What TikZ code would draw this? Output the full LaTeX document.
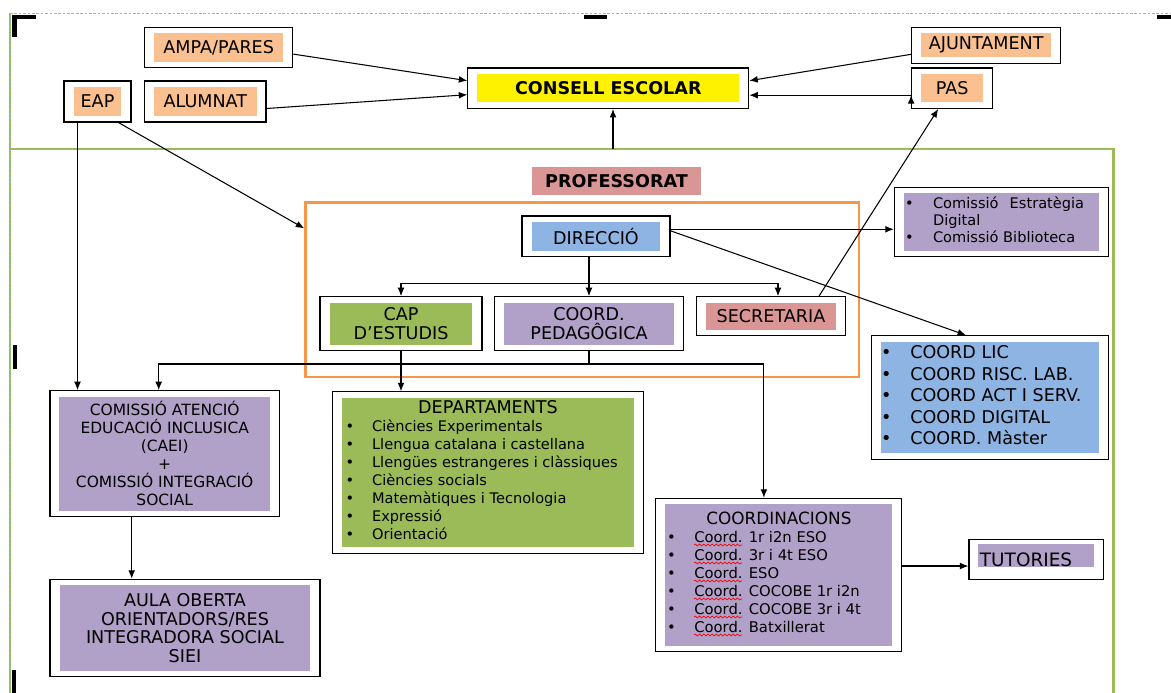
\documentclass[tikz,border=0pt]{standalone}
\usepackage{fontspec}
\setmainfont{DejaVu Sans}
\usetikzlibrary{shapes, arrows.meta, positioning, decorations.pathmorphing}
\definecolor{peach}{HTML}{FAC090}
\definecolor{rose}{HTML}{DA9694}
\definecolor{sky}{HTML}{8DB4E2}
\definecolor{leaf}{HTML}{9BBB59}
\definecolor{lilac}{HTML}{B1A0C7}
\definecolor{frameorange}{HTML}{F79646}
\definecolor{pageblue}{HTML}{95B3D7}
\hyphenpenalty=10000
\tikzstyle{->}   = [draw, -{Latex[length=4.8pt, width=3.9pt]}]
\tikzset{
  box/.style={draw, line width=0.65pt, fill=white, inner sep=0pt, align=center,
    font=\fontsize{10}{11}\selectfont,
    path picture={\fill[#1] ([shift={(0.19cm,0.12cm)}]path picture bounding box.south west)
      rectangle ([shift={(-0.19cm,-0.12cm)}]path picture bounding box.north east);}},
  boxtop/.style={draw, line width=0.65pt, fill=white, inner sep=0pt,
    path picture={\fill[#1] ([shift={(0.19cm,0.25cm)}]path picture bounding box.south west)
      rectangle ([shift={(-0.19cm,-0.1cm)}]path picture bounding box.north east);}},
  dims/.style 2 args={minimum width=#1cm, minimum height=#2cm},
}

\begin{document}
\begin{tikzpicture}[x=0.02cm, y=-0.02cm, semithick]
\useasboundingbox (0,0) rectangle (1171,693);

% page and frames
\draw [pageblue, dash pattern=on 1.5pt off 1pt, line width=0.5pt] (10,13) -- (1171,13);
\draw [leaf, line width=1pt] (10,13) -- (10,693);
\draw [pageblue, dotted, line width=0.6pt] (10,13) -- (10,693);
\draw [leaf, line width=1.7pt] (10,149) -- (1113,149) -- (1113,693);
\fill (11.5,15) rectangle (36,18.5);
\fill (11.5,15) rectangle (16.5,37);
\fill (584,15) rectangle (607,19);
\fill (1157,15) rectangle (1171,19);
\fill (12.5,345) rectangle (16.5,369);
\fill (11.5,670) rectangle (16,693);

% nodes
\node [box=peach, dims={2.96}{0.81}]  at (218.7, 47.6) (ampa)       {AMPA/PARES};
\node [box=peach, dims={1.34}{0.82}]  at ( 97.5,101.5) (eap)        {EAP};
\node [box=peach, dims={2.43}{0.82}]  at (205.3,101.5) (alumnat)    {ALUMNAT};
\node [box=yellow, dims={5.62}{0.81}, font=\fontsize{10}{11}\selectfont\bfseries]
                                      at (608.3, 88.2) (consell)    {CONSELL ESCOLAR};
\node [box=peach, dims={2.98}{0.72}]  at (986.2, 45.3) (ajuntament) {AJUNTAMENT};
\node [box=peach, dims={1.62}{0.81}]  at (952.2, 88.2) (pas)        {PAS};
\node [fill=rose, dims={3.38}{0.56}, inner sep=0pt, font=\fontsize{10}{11}\selectfont\bfseries]
                                      at (616.5,181)   (professorat) {PROFESSORAT};

\node [draw=frameorange, line width=1.5pt, dims={11.07}{3.49}] at (582.25,289.85) (nucli) {};
\node [box=sky,   dims={2.96}{0.81}]  at (596,236.3)   (direccio)   {DIRECCIÓ};
\node [box=leaf,  dims={3.24}{1.08}]  at (401,323.7)   (cap)        {CAP\\D’ESTUDIS};
\node [box=lilac, dims={3.78}{1.08}]  at (589,323.7)   (pedagogica) {COORD.\\PEDAGÔGICA};
\node [box=rose,  dims={2.98}{0.78}]  at (771,316.2)   (secretaria) {SECRETARIA};

\node [box=lilac, dims={4.28}{1.39}, font=\fontsize{8.3}{9.9}\selectfont] at (1001.3,222) (comissions)
  {\begin{tabular}{@{}l@{\hspace{11pt}}p{86pt}@{\hspace{7.6pt}}}
   \textbullet & Comissió Estratègia Digital\\
   \textbullet & Comissió Biblioteca
   \end{tabular}};
\node [box=sky, dims={4.73}{2.47}, font=\fontsize{10}{12.2}\selectfont] at (990,397.5) (lic)
  {\begin{tabular}{@{}l@{\hspace{10.7pt}}p{107.3pt}@{}}
   \textbullet & COORD LIC\\
   \textbullet & COORD RISC. LAB.\\
   \textbullet & COORD ACT I SERV.\\
   \textbullet & COORD DIGITAL\\
   \textbullet & COORD. Màster
   \end{tabular}};

\node [box=lilac, dims={4.59}{2.52}, font=\fontsize{8.8}{10.2}\selectfont] at (164.7,453.7) (caei)
  {COMISSIÓ ATENCIÓ\\EDUCACIÓ INCLUSICA\\(CAEI)\\+\\COMISSIÓ INTEGRACIÓ\\SOCIAL};
\node [box=lilac, dims={5.4}{1.95}, font=\fontsize{10}{10.5}\selectfont] at (185,628) (aula)
  {AULA OBERTA\\ORIENTADORS/RES\\INTEGRADORA SOCIAL\\SIEI};

\node [box=leaf, dims={6.21}{3.23}, font=\fontsize{8.3}{10.2}\selectfont] at (488,472.5) (departaments)
  {\begin{tabular}{@{}l@{\hspace{10.2pt}}p{147pt}@{}}
   \multicolumn{2}{c}{\fontsize{10}{12}\selectfont DEPARTAMENTS}\\
   \textbullet & Ciències Experimentals\\
   \textbullet & Llengua catalana i castellana\\
   \textbullet & Llengües estrangeres i clàssiques\\
   \textbullet & Ciències socials\\
   \textbullet & Matemàtiques i Tecnologia\\
   \textbullet & Expressió\\
   \textbullet & Orientació
   \end{tabular}};

\node [box=lilac, dims={4.92}{3.07}, font=\fontsize{8.4}{10.2}\selectfont] at (778.9,575) (coordinacions)
  {\begin{tabular}{@{}l@{\hspace{10.5pt}}p{111.7pt}@{}}
   \multicolumn{2}{c}{\fontsize{9.6}{12}\selectfont COORDINACIONS}\\
   \textbullet & Coord. 1r i2n ESO\\
   \textbullet & Coord. 3r i 4t ESO\\
   \textbullet & Coord. ESO\\
   \textbullet & Coord. COCOBE 1r i2n\\
   \textbullet & Coord. COCOBE 3r i 4t\\
   \textbullet & Coord. Batxillerat
   \end{tabular}};
\foreach \k in {0,...,5}
  \draw [red, line width=0.4pt, decorate, decoration={snake, amplitude=0.5pt, segment length=2.4pt}]
    (694,{545+18*\k}) -- (742,{545+18*\k});

\node [boxtop=lilac, dims={2.69}{0.8}, text width=2.25cm, align=left, font=\fontsize{10.5}{11}\selectfont]
                                      at (1036.2,559.3) (tutories) {TUTORIES};

% edges
\path [->] ([yshift=-0.13cm]ampa.east)       edge ([yshift=0.15cm]consell.west)
           ([yshift=-0.14cm]alumnat.east)    edge ([yshift=-0.13cm]consell.west)
           ([yshift=-0.18cm]ajuntament.west) edge ([yshift=0.15cm]consell.east)
           ([yshift=-0.14cm]pas.west)        edge ([yshift=-0.14cm]consell.east);

\coordinate (gtop) at (613,149);
\draw [->] (gtop) -- (gtop |- consell.south);

\draw [->] ([xshift=-0.4cm]eap.south) -- ([xshift=-0.4cm]eap.south |- caei.north);
\draw [->] ([xshift=0.42cm]eap.south) -- ([yshift=1.23cm]nucli.west);

\coordinate (fork) at (589,283.3);
\draw [->] (fork |- direccio.south) -- (pedagogica.north);
\draw [->] (fork) -| (cap.north);
\draw [->] (fork) -| ([xshift=0.14cm]secretaria.north);
\draw [->] ([yshift=0.14cm]direccio.east) -- ([yshift=0.14cm]direccio.east -| comissions.west);
\draw [->] ([yshift=0.11cm]direccio.east) -- ([xshift=-0.48cm]lic.north);
\draw [->] ([xshift=0.96cm]secretaria.north) -- ([xshift=-0.28cm]pas.south);

\draw [->] (cap.south) -- (cap.south |- departaments.north);
\coordinate (split) at (589,364);
\draw (pedagogica.south) -- (split);
\draw [->] (split) -| ([xshift=-0.12cm]caei.north);
\draw [->] (split) -| ([xshift=-0.3cm]coordinacions.north);
\draw [->] ([xshift=-0.66cm]caei.south) -- ([xshift=-0.66cm]caei.south |- aula.north);
\draw [->] ([yshift=0.18cm]coordinacions.east) -- ([yshift=0.18cm]coordinacions.east -| tutories.west);

\end{tikzpicture}
\end{document}
